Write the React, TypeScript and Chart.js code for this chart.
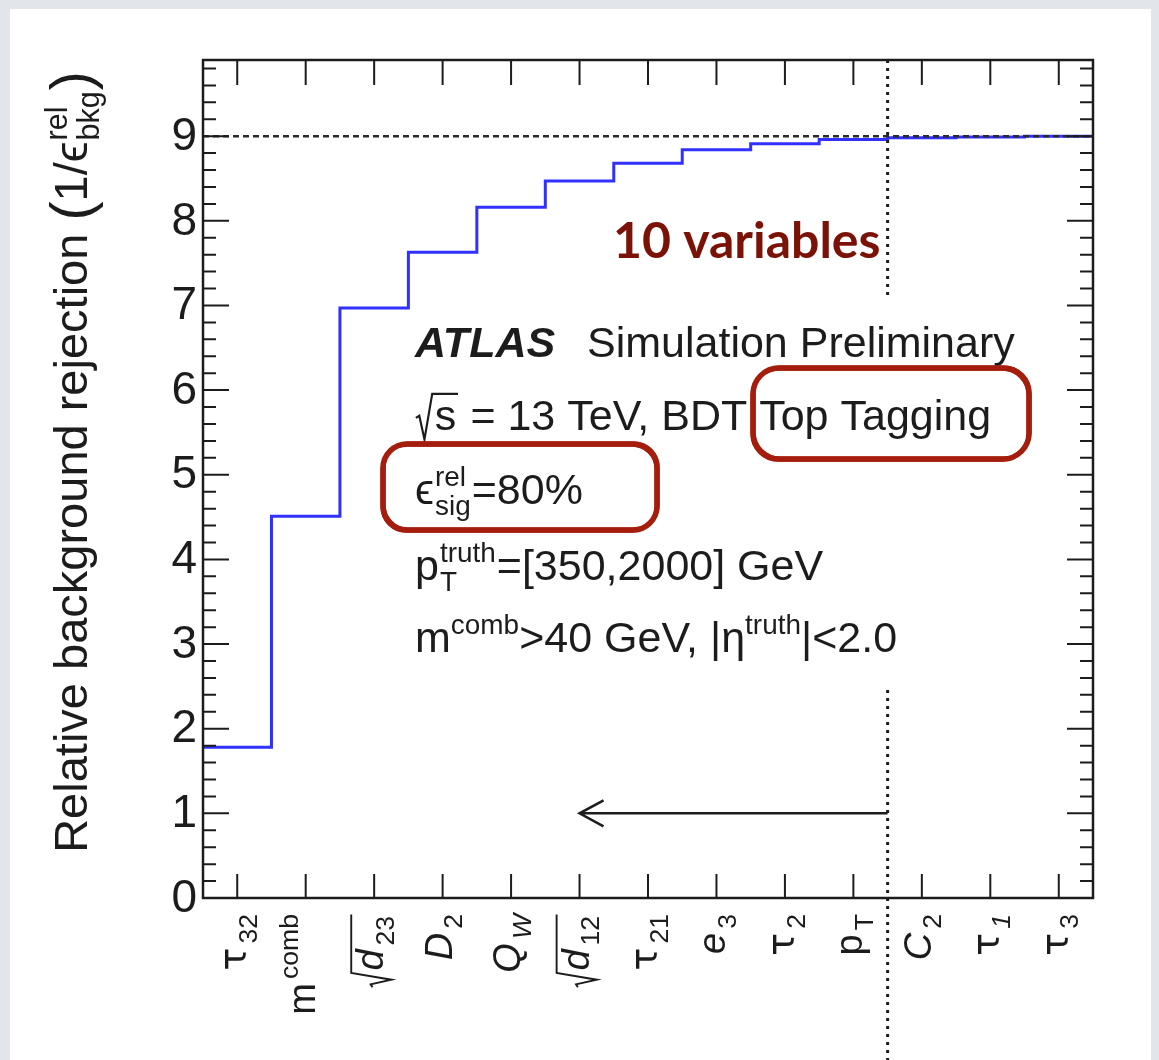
import React, { useEffect, useRef } from 'react';
import { Chart, registerables } from 'chart.js';

Chart.register(...registerables);

type Seg = {
  t?: string;
  kind?: 'sub' | 'sup' | 'stack' | 'sqrt';
  it?: boolean;
  b?: boolean;
  top?: string;
  bot?: string;
  inner?: Seg[];
  sc?: number;
  dy?: number;
  fam?: string;
  gap?: number;
};

// ---- data ----
const categoryNames = ['τ32', 'm comb', '√d23', 'D2', 'QW', '√d12', 'τ21', 'e3', 'τ2', 'pT', 'C2', 'τ1', 'τ3'];
const GREEK = "'DejaVu Sans', sans-serif";
const categoryLabels: Seg[][] = [
  [{ t: 'τ', fam: GREEK }, { t: '32', kind: 'sub' }],
  [{ t: 'm' }, { t: 'comb', kind: 'sup' }],
  [{ kind: 'sqrt', inner: [{ t: 'd', it: true }, { t: '23', kind: 'sub' }] }],
  [{ t: 'D', it: true }, { t: '2', kind: 'sub' }],
  [{ t: 'Q', it: true }, { t: 'W', kind: 'sub', it: true }],
  [{ kind: 'sqrt', inner: [{ t: 'd', it: true }, { t: '12', kind: 'sub' }] }],
  [{ t: 'τ', fam: GREEK }, { t: '21', kind: 'sub' }],
  [{ t: 'e', it: true }, { t: '3', kind: 'sub' }],
  [{ t: 'τ', fam: GREEK }, { t: '2', kind: 'sub' }],
  [{ t: 'p' }, { t: 'T', kind: 'sub' }],
  [{ t: 'C', it: true }, { t: '2', kind: 'sub' }],
  [{ t: 'τ', fam: GREEK }, { t: '1', kind: 'sub', it: true }],
  [{ t: 'τ', fam: GREEK }, { t: '3', kind: 'sub' }],
];
const rejection = [1.78, 4.51, 6.97, 7.63, 8.16, 8.47, 8.68, 8.84, 8.91, 8.96, 8.98, 8.99, 9.0];
const yTickValues = [0, 1, 2, 3, 4, 5, 6, 7, 8, 9];
const yTickLabels = ['0', '1', '2', '3', '4', '5', '6', '7', '8', '9'];
const yMax = 9.9;
const referenceLevel = 9;
const cutIndex = 10; // boundary after p_T
const arrowTipBin = 5.5;

const yTitle: Seg[] = [
  { t: 'Relative background rejection ' },
  { t: '(', sc: 1.22, dy: 4 },
  { t: '1/ϵ' },
  { kind: 'stack', top: 'rel', bot: 'bkg' },
  { t: ')', sc: 1.22, dy: 4 },
];
const infoLines: Seg[][] = [
  [{ kind: 'sqrt', inner: [{ t: 's' }] }, { t: ' = 13 TeV, BDT Top Tagging' }],
  [{ t: 'ϵ' }, { kind: 'stack', top: 'rel', bot: 'sig' }, { t: '=80%' }],
  [{ t: 'p' }, { kind: 'stack', top: 'truth', bot: 'T' }, { t: '=[350,2000] GeV' }],
  [{ t: 'm' }, { t: 'comb', kind: 'sup' }, { t: '>40 GeV, |η' }, { t: 'truth', kind: 'sup' }, { t: '|<2.0' }],
];

// ---- rendering helpers ----
const W = 1159;
const H = 1060;
const FAM = "'Liberation Sans', Arial, 'DejaVu Sans', sans-serif";
const INK = '#1c1c1c';
const fnt = (s: number, it?: boolean, b?: boolean, fam?: string) =>
  `${it ? 'italic ' : ''}${b ? 'bold ' : ''}${s}px ${fam || FAM}`;

type Opt = { small: number; subGap: number; subDy: number; supDy: number };
const defOpt: Opt = { small: 0.65, subGap: 0, subDy: 0.26, supDy: 0.42 };

function drawSegs(ctx: CanvasRenderingContext2D, segs: Seg[], x0: number, y: number, S: number, draw: boolean, o: Opt = defOpt): number {
  let x = x0;
  const small = S * o.small;
  for (const s of segs) {
    if (!s.kind) {
      ctx.font = fnt(S * (s.sc || 1), s.it, s.b, s.fam);
      if (draw) ctx.fillText(s.t!, x, y + (s.dy || 0));
      x += ctx.measureText(s.t!).width;
    } else if (s.kind === 'sub' || s.kind === 'sup') {
      x += o.subGap;
      ctx.font = fnt(small, s.it, s.b);
      const yy = s.kind === 'sub' ? y + o.subDy * S : y - o.supDy * S;
      if (draw) ctx.fillText(s.t!, x, yy);
      x += ctx.measureText(s.t!).width;
    } else if (s.kind === 'stack') {
      x += o.subGap;
      ctx.font = fnt(small);
      if (draw) {
        ctx.fillText(s.top!, x + 1, y - o.supDy * S);
        ctx.fillText(s.bot!, x + 1, y + o.subDy * S);
      }
      x += Math.max(ctx.measureText(s.top!).width, ctx.measureText(s.bot!).width) + 2;
    } else if (s.kind === 'sqrt') {
      const h = 0.84 * S;
      const innerStart = x + 0.46 * S;
      const w = drawSegs(ctx, s.inner!, innerStart, y, S, false, o);
      if (draw) {
        ctx.save();
        ctx.lineWidth = Math.max(1.6, S * 0.05);
        ctx.strokeStyle = ctx.fillStyle as string;
        ctx.lineJoin = 'miter';
        ctx.beginPath();
        ctx.moveTo(x + 0.02 * S, y - 0.28 * S);
        ctx.lineTo(x + 0.1 * S, y - 0.33 * S);
        ctx.lineTo(x + 0.22 * S, y + 0.22 * S);
        ctx.lineTo(x + 0.4 * S, y - h);
        ctx.lineTo(innerStart + w + 0.04 * S, y - h);
        ctx.stroke();
        ctx.restore();
        drawSegs(ctx, s.inner!, innerStart, y, S, true, o);
      }
      x = innerStart + w + 0.05 * S;
    }
  }
  return x - x0;
}

function roughBox(ctx: CanvasRenderingContext2D, x: number, y: number, w: number, h: number, r: number) {
  ctx.save();
  ctx.strokeStyle = '#a51d0d';
  ctx.lineJoin = 'round';
  const passes = [
    [0, 0, 5.5],
    [1.2, -1, 3],
    [-1, 1.2, 3],
  ];
  for (const [dx, dy, lw] of passes) {
    ctx.lineWidth = lw;
    ctx.beginPath();
    ctx.roundRect(x + dx, y + dy, w, h, r);
    ctx.stroke();
  }
  ctx.restore();
}

const decorations = {
  id: 'decorations',
  beforeDraw(chart: any) {
    const ctx: CanvasRenderingContext2D = chart.ctx;
    ctx.save();
    ctx.fillStyle = '#e2e5e9';
    ctx.fillRect(0, 0, W, H);
    ctx.fillStyle = '#ffffff';
    ctx.fillRect(10, 9, 1141, H - 9);
    ctx.restore();
  },
  afterDraw(chart: any) {
    const ctx: CanvasRenderingContext2D = chart.ctx;
    const xs = chart.scales.x;
    const ys = chart.scales.y;
    const { left, right, top, bottom } = chart.chartArea;
    ctx.save();
    ctx.fillStyle = INK;
    ctx.strokeStyle = INK;

    // reference level dotted line
    ctx.save();
    ctx.setLineDash([6, 4]);
    ctx.lineWidth = 2.5;
    ctx.strokeStyle = '#2a2a2a';
    const y9 = ys.getPixelForValue(referenceLevel);
    ctx.beginPath();
    ctx.moveTo(left, y9);
    ctx.lineTo(right, y9);
    ctx.stroke();
    ctx.restore();

    // vertical cut line
    const xc = xs.getPixelForValue(cutIndex);
    ctx.save();
    ctx.setLineDash([3, 5]);
    ctx.lineWidth = 3;
    ctx.beginPath();
    ctx.moveTo(xc, top);
    ctx.lineTo(xc, 298);
    ctx.moveTo(xc, 690);
    ctx.lineTo(xc, H);
    ctx.stroke();
    ctx.restore();

    // arrow
    const ya = ys.getPixelForValue(1);
    const xt = xs.getPixelForValue(arrowTipBin);
    ctx.save();
    ctx.lineWidth = 2.5;
    ctx.beginPath();
    ctx.moveTo(xc, ya);
    ctx.lineTo(xt, ya);
    ctx.moveTo(xt + 24, ya - 13);
    ctx.lineTo(xt, ya);
    ctx.lineTo(xt + 24, ya + 13);
    ctx.stroke();
    ctx.restore();

    // frame
    ctx.lineWidth = 2.5;
    ctx.strokeRect(left, top, right - left, bottom - top);

    // x ticks (top & bottom)
    ctx.lineWidth = 2;
    ctx.beginPath();
    for (let i = 0; i < categoryNames.length; i++) {
      const cx = xs.getPixelForValue(i + 0.5);
      ctx.moveTo(cx, bottom);
      ctx.lineTo(cx, bottom - 24);
      ctx.moveTo(cx, top);
      ctx.lineTo(cx, top + 25);
    }
    ctx.stroke();

    // y ticks
    ctx.beginPath();
    for (let k = 0; k <= Math.round(yMax * 5); k++) {
      const v = k / 5;
      if (v > yMax) break;
      const py = ys.getPixelForValue(v);
      const len = k % 5 === 0 ? 26 : 13;
      ctx.moveTo(left, py);
      ctx.lineTo(left + len, py);
      ctx.moveTo(right, py);
      ctx.lineTo(right - len, py);
    }
    ctx.stroke();

    // y tick labels
    ctx.font = fnt(46);
    ctx.textAlign = 'right';
    ctx.textBaseline = 'middle';
    yTickValues.forEach((v, i) => {
      ctx.fillText(yTickLabels[i], left - 6, ys.getPixelForValue(v) + 1);
    });
    ctx.textAlign = 'left';
    ctx.textBaseline = 'alphabetic';

    // x labels, rotated
    const xo: Opt = { small: 0.7, subGap: 4, subDy: 0.28, supDy: 0.45 };
    categoryLabels.forEach((segs, i) => {
      const cx = xs.getPixelForValue(i + 0.5);
      const S = 38;
      const w = drawSegs(ctx, segs, 0, 0, S, false, xo);
      ctx.save();
      ctx.translate(cx, bottom + 16);
      ctx.rotate(-Math.PI / 2);
      drawSegs(ctx, segs, -w, 9, S, true, xo);
      ctx.restore();
    });

    // y axis title
    {
      const S = 47;
      const w = drawSegs(ctx, yTitle, 0, 0, S, false);
      ctx.save();
      ctx.translate(87, 462);
      ctx.rotate(-Math.PI / 2);
      drawSegs(ctx, yTitle, -w / 2, 0, S, true);
      ctx.restore();
    }

    // ATLAS label
    const S = 43;
    ctx.font = fnt(S, true, true);
    ctx.fillText('ATLAS', 415, 357);
    ctx.font = fnt(S);
    ctx.fillText('Simulation Preliminary', 587, 357);
    const baselines = [430, 504, 580, 652];
    infoLines.forEach((segs, i) => drawSegs(ctx, segs, 415, baselines[i], S, true));

    // hand-drawn highlight boxes
    roughBox(ctx, 753, 368, 276, 91, 26);
    roughBox(ctx, 383, 444, 274, 86, 24);

    // 10 variables
    ctx.fillStyle = '#7a1207';
    ctx.font = `bold 50px Lato, 'Open Sans', sans-serif`;
    ctx.fillText('10 variables', 613, 258);

    ctx.restore();
  },
};

export default function App() {
  const ref = useRef<HTMLCanvasElement | null>(null);
  useEffect(() => {
    const canvas = ref.current!;
    const points = rejection.map((v, i) => ({ x: i, y: v }));
    points.push({ x: rejection.length, y: rejection[rejection.length - 1] });
    const chart = new Chart(canvas, {
      type: 'line',
      data: {
        datasets: [
          {
            data: points,
            borderColor: '#3030ff',
            borderWidth: 3,
            stepped: 'before',
            pointRadius: 0,
            fill: false,
          } as any,
        ],
      },
      options: {
        animation: false,
        responsive: false,
        maintainAspectRatio: false,
        events: [],
        layout: { padding: { left: 203, top: 60, right: 66, bottom: 162 } },
        plugins: { legend: { display: false }, tooltip: { enabled: false } },
        scales: {
          x: { type: 'linear', min: 0, max: categoryNames.length, display: false },
          y: { type: 'linear', min: 0, max: yMax, display: false },
        },
      },
      plugins: [decorations],
    });
    return () => chart.destroy();
  }, []);
  return (
    <div style={{ position: 'fixed', left: 0, top: 0, width: W, height: H }}>
      <canvas ref={ref} width={W} height={H} style={{ display: 'block', width: W, height: H }} />
    </div>
  );
}
